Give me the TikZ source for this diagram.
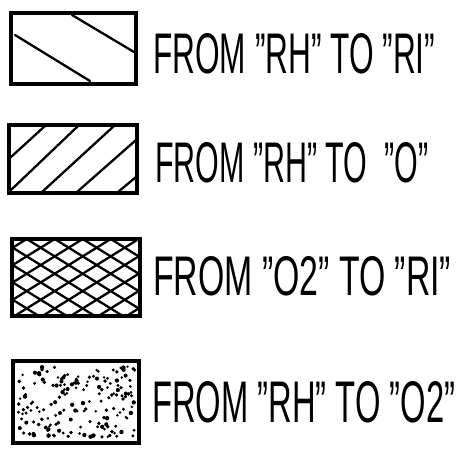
\documentclass[tikz,border=0pt]{standalone}
\usepackage{fontspec}
\setmainfont{Liberation Sans}
\begin{document}
\begin{tikzpicture}[x=1pt,y=-1pt,
  swatch/.style={draw, line width=3.4pt, inner sep=0pt},
  hatch/.style={line width=2.3pt, line cap=round},
  legendtext/.style={anchor=north west, inner sep=0pt}]
\useasboundingbox (0,0) rectangle (470,459);

% swatches
\node[swatch, minimum width=125pt, minimum height=71pt] (b1) at (73.5,48.5) {};
\node[swatch, minimum width=128pt, minimum height=68pt] (b2) at (73,159) {};
\node[swatch, minimum width=128pt, minimum height=77pt] (b3) at (76,277.5) {};
\node[swatch, minimum width=126pt, minimum height=82pt] (b4) at (76,402) {};

% box 1 hatching
\draw[hatch] (72,15) -- (134,52);
\draw[hatch] (15,35) -- (90,81);

% box 2 hatching
\draw[hatch] (11,157) -- (45,126);
\draw[hatch] (11,190) -- (78,126);
\draw[hatch] (42,192) -- (114,126);
\draw[hatch] (77,192) -- (136,140);
\draw[hatch] (118,192) -- (136,177);

% box 3 cross hatching
\begin{scope}
  \clip (b3.south west) rectangle (b3.north east);
  \foreach \k in {-6,...,9} {
    \draw[hatch] ({26.7+28*\k},239) -- ++(200,124);
    \draw[hatch] ({26.7+28*\k},239) -- ++(-200,124);
  }
\end{scope}

% box 4 stipple
\pgfmathsetseed{12}
\foreach \i in {1,...,175} {
  \pgfmathsetmacro\px{18+117*rnd}
  \pgfmathsetmacro\py{366+72*rnd}
  \pgfmathsetmacro\rr{1.3+0.9*rnd}
  \fill (\px,\py) circle[radius=\rr pt];
}

% labels
\node[legendtext] (t1) at (153,33) {\resizebox{282pt}{40pt}{FROM "RH" TO "RI"}};
\node[legendtext] (t2) at (155,142) {\resizebox{273pt}{40pt}{FROM "RH" TO \ "O"}};
\node[legendtext] (t3) at (153,256) {\resizebox{298pt}{39pt}{FROM "O2" TO "RI"}};
\node[legendtext] (t4) at (152,381) {\resizebox{303pt}{41pt}{FROM "RH" TO "O2"}};
\end{tikzpicture}
\end{document}
